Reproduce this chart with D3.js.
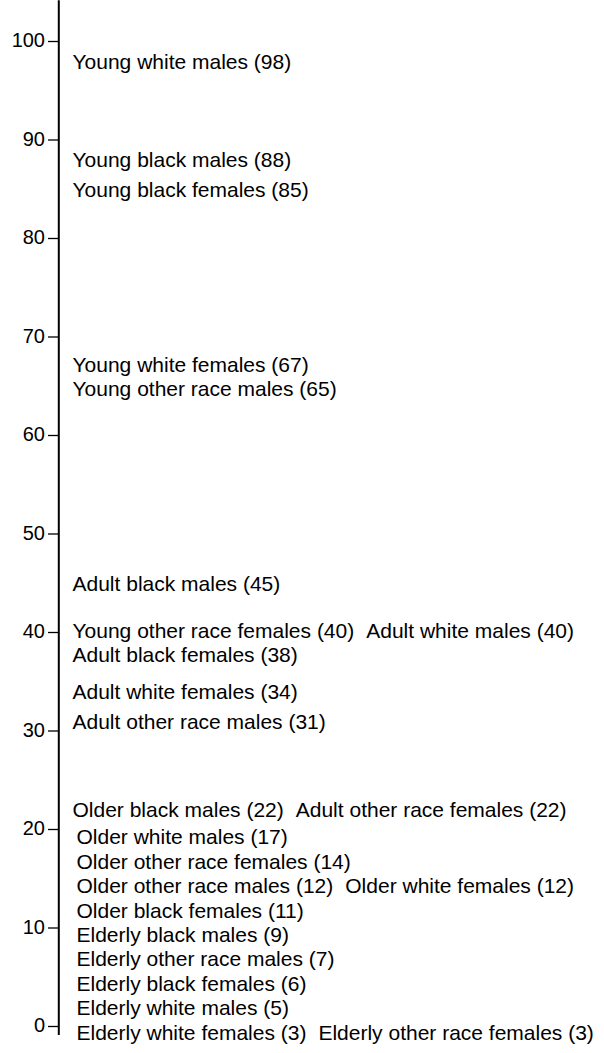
<!DOCTYPE html>
<html>
<head>
<meta charset="utf-8">
<script src="https://cdn.jsdelivr.net/npm/d3@7"></script>
<style>
  html, body { margin: 0; padding: 0; background: #fff; }
  svg { display: block; }
</style>
</head>
<body>
<svg id="chart" width="604" height="1053"></svg>
<script>
// ---- data ----
const labels = [
  "Young white males", "Young black males", "Young black females",
  "Young white females", "Young other race males", "Adult black males",
  "Young other race females", "Adult white males", "Adult black females",
  "Adult white females", "Adult other race males",
  "Older black males", "Adult other race females",
  "Older white males", "Older other race females",
  "Older other race males", "Older white females",
  "Older black females", "Elderly black males", "Elderly other race males",
  "Elderly black females", "Elderly white males",
  "Elderly white females", "Elderly other race females"
];
const values = [
  98, 88, 85,
  67, 65, 45,
  40, 40, 38,
  34, 31,
  22, 22,
  17, 14,
  12, 12,
  11, 9, 7,
  6, 5,
  3, 3
];
const tickValues = [0, 10, 20, 30, 40, 50, 60, 70, 80, 90, 100];
const axisExtent = [-0.86, 104.2];

// ---- layout ----
const svg = d3.select("#chart");
const y = d3.scaleLinear().domain([0, 100]).range([1026.5, 41.5]);
const axisX = 58.8;
const lineGap = 24.4;

// axis line
svg.append("line")
  .attr("x1", axisX).attr("x2", axisX)
  .attr("y1", y(axisExtent[1])).attr("y2", y(axisExtent[0]))
  .attr("stroke", "#000").attr("stroke-width", 2);

// ticks
const tk = svg.append("g").selectAll("g").data(tickValues).join("g")
  .attr("transform", d => `translate(0,${y(d)})`);
tk.append("line").attr("x1", 48).attr("x2", axisX)
  .attr("stroke", "#000").attr("stroke-width", 1.3);
tk.append("text")
  .attr("x", 45).attr("y", 5.6)
  .attr("text-anchor", "end")
  .attr("font-family", "'Liberation Sans', Arial, Helvetica, sans-serif")
  .attr("font-size", 20).attr("fill", "#000")
  .text(d => d);

// group labels of equal value into rows
const items = labels.map((l, i) => ({ text: `${l} (${values[i]})`, v: values[i] }));
const rowMap = d3.group(items, d => d.v);
const rows = Array.from(rowMap, ([v, its]) => ({ v, its }))
  .sort((a, b) => d3.descending(a.v, b.v));

// spread rows apart (least squares with minimum spacing, pool adjacent violators)
const z = rows.map((r, i) => y(r.v) - i * lineGap);
let blocks = [];
z.forEach((val, i) => {
  blocks.push({ sum: val, n: 1, start: i });
  while (blocks.length > 1 &&
    blocks[blocks.length - 2].sum / blocks[blocks.length - 2].n >
    blocks[blocks.length - 1].sum / blocks[blocks.length - 1].n) {
    const b = blocks.pop();
    const a = blocks[blocks.length - 1];
    a.sum += b.sum; a.n += b.n;
  }
});
blocks.forEach(b => {
  const m = b.sum / b.n;
  for (let k = b.start; k < b.start + b.n; k++) {
    rows[k].pos = m + k * lineGap;
    rows[k].indent = b.n >= 3 ? 4 : 0;
  }
});

const font = "'Liberation Sans', Arial, Helvetica, sans-serif";
const lg = svg.append("g");
rows.forEach(r => {
  let x = axisX + 13.7 + r.indent;
  r.its.forEach(it => {
    const t = lg.append("text")
      .attr("x", x).attr("y", r.pos + 7.5)
      .attr("font-family", font).attr("font-size", 21)
      .attr("fill", "#000")
      .text(it.text);
    x += t.node().getComputedTextLength() + 12;
  });
});
</script>
</body>
</html>
